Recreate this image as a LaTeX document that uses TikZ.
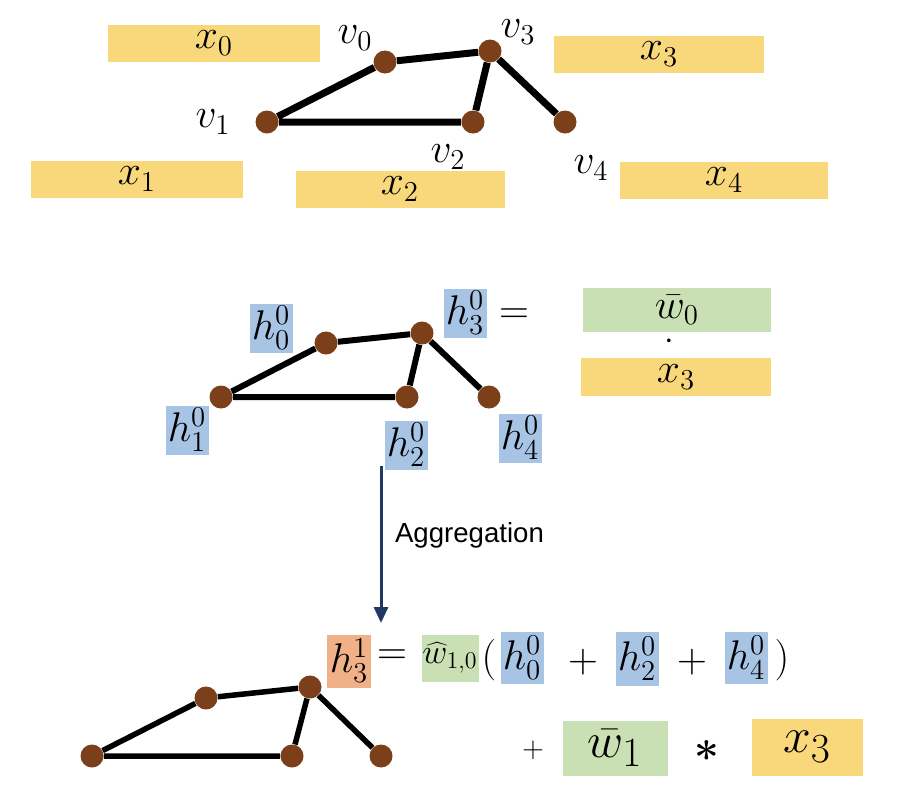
\documentclass[tikz,border=0pt]{standalone}
\usepackage{fontspec}
\newfontfamily\aggfont{Liberation Sans}
\usetikzlibrary{arrows.meta}

% 颜色定义
\definecolor{vbrown}{RGB}{123,64,26}
\definecolor{xyellow}{RGB}{249,216,124}
\definecolor{hblue}{RGB}{168,196,228}
\definecolor{wgreen}{RGB}{201,224,181}
\definecolor{horange}{RGB}{240,176,136}
\definecolor{aggnavy}{RGB}{32,56,100}

% 一个像素对应的长度
\def\px{0.5pt}

\tikzset{
  vtx/.style={circle, fill=vbrown, minimum size=23*\px, inner sep=0pt},
  edge/.style={line width=#1*\px, black},
  edge/.default=7,
  vlab/.style={font=\fontsize{22}{24}\selectfont},
  ybox/.style={fill=xyellow, minimum width=#1*\px, minimum height=37*\px,
               inner sep=0pt, font=\fontsize{22}{24}\selectfont},
  ybox/.default=210,
  hbox/.style={fill=hblue, minimum width=43*\px, minimum height=49*\px,
               inner sep=0pt, font=\fontsize{21}{23}\selectfont},
  gbox/.style={fill=wgreen, minimum width=#1*\px, minimum height=44*\px,
               inner sep=0pt, font=\fontsize{22}{24}\selectfont},
  gbox/.default=188,
  eqtxt/.style={inner sep=0pt, font=\fontsize{22}{24}\selectfont},
  aggarrow/.style={line width=3*\px, aggnavy, -{Triangle[length=8pt,width=7pt]}}
}

\begin{document}
\begin{tikzpicture}[x=\px, y=-\px]
  % 固定画布大小(与参考图一致)
  \useasboundingbox (0,0) rectangle (924,788);

  % ---------- 上图:图结构与节点特征 ----------
  \node[vtx] (a0) at (385,62) {};
  \node[vtx] (a1) at (267,122) {};
  \node[vtx] (a2) at (473,122) {};
  \node[vtx] (a3) at (490,51) {};
  \node[vtx] (a4) at (565,122) {};
  \draw[edge] (a1) -- (a0) -- (a3) -- (a2) -- (a1);
  \draw[edge] (a3) -- (a4);

  % 顶点名称
  \node[vlab] (la0) at (355,38) {$v_0$};
  \node[vlab] (la1) at (213,122) {$v_1$};
  \node[vlab] (la2) at (448,157) {$v_2$};
  \node[vlab] (la3) at (518,32) {$v_3$};
  \node[vlab] (la4) at (591,168) {$v_4$};

  % 特征向量 x
  \node[ybox=212] (x0) at (214,43) {$x_0$};
  \node[ybox=210] (x3) at (659,54) {$x_3$};
  \node[ybox=212] (x1) at (137,179) {$x_1$};
  \node[ybox=209] (x2) at (400,189) {$x_2$};
  \node[ybox=208] (x4) at (724,180) {$x_4$};

  % ---------- 中图:初始隐藏状态 ----------
  \node[vtx] (b0) at (326,343) {};
  \node[vtx] (b1) at (221,397) {};
  \node[vtx] (b2) at (407,397) {};
  \node[vtx] (b3) at (422,333) {};
  \node[vtx] (b4) at (489,397) {};
  \draw[edge=6] (b1) -- (b0) -- (b3) -- (b2) -- (b1);
  \draw[edge=6] (b3) -- (b4);

  \node[hbox] (h0) at (271,328) {$h_0^0$};
  \node[hbox] (h1) at (187,430) {$h_1^0$};
  \node[hbox] (h2) at (406,445) {$h_2^0$};
  \node[hbox] (h3) at (465,313) {$h_3^0$};
  \node[hbox] (h4) at (520,438) {$h_4^0$};

  \node[eqtxt] (eq0) at (514,316) {$=$};
  \node[gbox] (w0) at (677,310) {$\bar{w}_0$};
  \node[eqtxt, font=\fontsize{16}{18}\selectfont] (dot0) at (669,342) {$\cdot$};
  \node[ybox=190, minimum height=38*\px] (x3b) at (676,377) {$x_3$};

  % ---------- 聚合箭头 ----------
  \coordinate (aggtop) at (381,466);
  \coordinate (aggbot) at (381,623);
  \draw[aggarrow] (aggtop) -- (aggbot);
  \node[anchor=west, font=\aggfont\fontsize{13.8}{16}\selectfont] (agg) at (388,535) {Aggregation};

  % ---------- 下图:更新后的隐藏状态 ----------
  \node[vtx] (c0) at (206,698) {};
  \node[vtx] (c1) at (92,756) {};
  \node[vtx] (c2) at (292,756) {};
  \node[vtx] (c3) at (310,687) {};
  \node[vtx] (c4) at (381,756) {};
  \draw[edge=5.5] (c1) -- (c0) -- (c3) -- (c2) -- (c1);
  \draw[edge=5.5] (c3) -- (c4);

  % 更新公式第一行
  \node[hbox, fill=horange, minimum width=44*\px, minimum height=53*\px] (h31) at (349,661) {$h_3^1$};
  \node[eqtxt, font=\fontsize{20}{22}\selectfont] (eq1) at (392,657) {$=$};
  \node[gbox=57, minimum height=47*\px, font=\fontsize{18}{20}\selectfont] (w10) at (450,658) {$\widehat{w}_{1,0}$};
  \node[eqtxt] (lp) at (489,660) {$($};
  \node[hbox, minimum height=52*\px] (s0) at (522,658) {$h_0^0$};
  \node[eqtxt] (p1) at (583,662) {$+$};
  \node[hbox, minimum height=54*\px] (s2) at (637,659) {$h_2^0$};
  \node[eqtxt] (p2) at (692,662) {$+$};
  \node[hbox, minimum height=52*\px] (s4) at (746,658) {$h_4^0$};
  \node[eqtxt] (rp) at (782,660) {$)$};

  % 更新公式第二行
  \node[eqtxt, font=\fontsize{15}{17}\selectfont] (p3) at (533,750) {$+$};
  \node[gbox=105, minimum height=55*\px, font=\fontsize{28}{30}\selectfont] (w1) at (615,748) {$\bar{w}_1$};
  \node[inner sep=0pt, font=\fontsize{22}{24}\selectfont\bfseries] (mul) at (707,757) {*};
  \node[ybox=111, minimum height=57*\px, font=\fontsize{30}{32}\selectfont] (x3c) at (807,747) {$x_3$};
\end{tikzpicture}
\end{document}
